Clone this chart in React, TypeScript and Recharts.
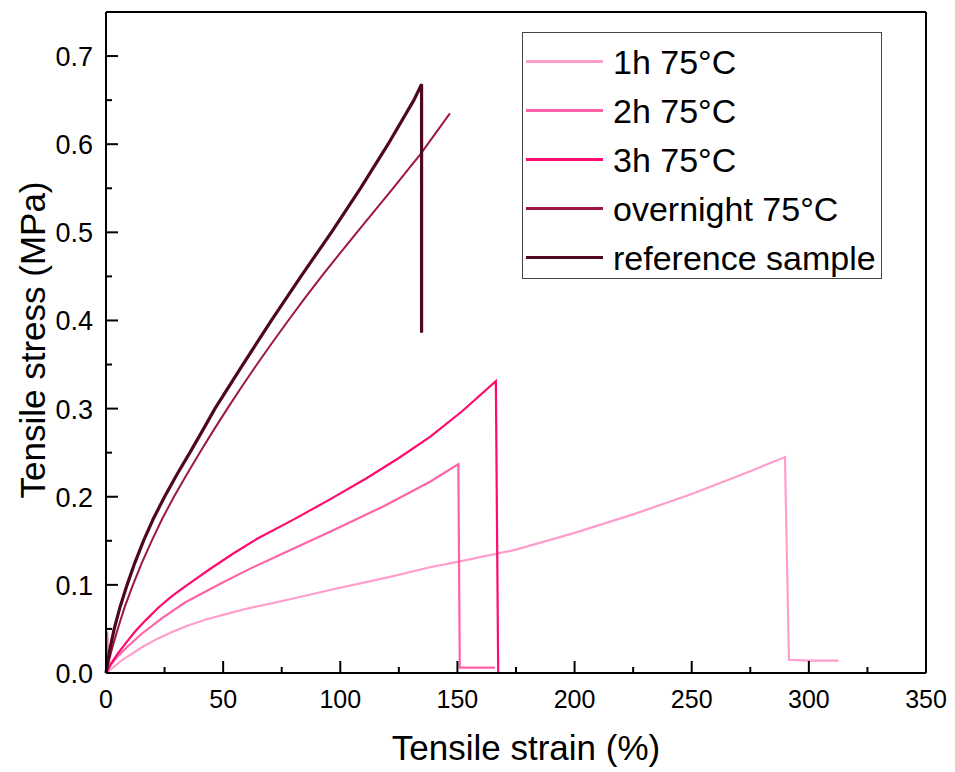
import React from 'react';
import { LineChart, Line, XAxis, YAxis, Legend, ReferenceLine } from 'recharts';

// strain (%) / stress (MPa) pairs
const oneHour = [
  [0, 0], [2, 0.004], [6, 0.013], [10, 0.02], [15.9, 0.03], [22, 0.039], [28.7, 0.047],
  [35, 0.054], [43, 0.061], [50, 0.066], [58.6, 0.072], [75.7, 0.082], [97, 0.095], [121.2, 0.109],
  [138.3, 0.12], [150, 0.126], [175, 0.14], [200, 0.159], [225, 0.18], [250, 0.203],
  [275, 0.229], [289.8, 0.245], [291.5, 0.015], [300, 0.014], [312.6, 0.014],
];
const twoHours = [
  [0, 0], [0.5, 0.047], [1, 0.004], [2, 0.009], [5, 0.019], [8.8, 0.029], [15, 0.044],
  [23.8, 0.062], [33.7, 0.08], [50, 0.103], [62, 0.119], [75.7, 0.136], [97, 0.162], [118.3, 0.189],
  [138.3, 0.217], [150.4, 0.237], [151, 0.006], [158, 0.006], [166, 0.006],
];
const threeHours = [
  [0, 0], [2, 0.01], [5, 0.022], [8.8, 0.035], [12.4, 0.047], [17, 0.06], [22.3, 0.074],
  [28, 0.087], [33.7, 0.098], [39, 0.108], [44.4, 0.118], [54, 0.135], [64.3, 0.152], [80, 0.174],
  [95.6, 0.197], [111.2, 0.221], [125, 0.244], [138.3, 0.268], [152, 0.297], [166.4, 0.331], [167.4, 0],
];
const overnight = [
  [0, 0], [2.3, 0.025], [5, 0.05], [8, 0.075], [11.5, 0.1], [15.3, 0.125], [19.5, 0.15],
  [24, 0.175], [29, 0.2], [34.4, 0.225], [40, 0.25], [45.8, 0.275], [51.8, 0.3], [58, 0.325],
  [64.4, 0.35], [71, 0.375], [77.8, 0.4], [84.8, 0.425], [92, 0.45], [99.5, 0.475], [107.1, 0.5],
  [114.8, 0.525], [122.5, 0.55], [130.1, 0.575], [134, 0.588], [146.8, 0.635],
];
const referenceSample = [
  [0, 0], [1.5, 0.025], [3.5, 0.05], [6, 0.075], [9, 0.1], [12.3, 0.125], [16, 0.15],
  [20.2, 0.175], [25, 0.2], [30.2, 0.225], [35.8, 0.25], [41.2, 0.275], [46.5, 0.3],
  [58.4, 0.35], [70.6, 0.4], [83.2, 0.45], [96.2, 0.5], [108.6, 0.55], [120.4, 0.6],
  [131.4, 0.65], [134.7, 0.668], [134.7, 0.386],
];

const seriesNames = ['1h 75°C', '2h 75°C', '3h 75°C', 'overnight 75°C', 'reference sample'];
const seriesColors = ['#ff9dcc', '#ff62a8', '#ff0a6e', '#9e1549', '#4e081c'];
const seriesWidths = [2.2, 2.2, 2.2, 2, 3.2];
const seriesData = [oneHour, twoHours, threeHours, overnight, referenceSample];

const xTicks = [0, 25, 50, 75, 100, 125, 150, 175, 200, 225, 250, 275, 300, 325, 350];
const yTicks = [0, 0.05, 0.1, 0.15, 0.2, 0.25, 0.3, 0.35, 0.4, 0.45, 0.5, 0.55, 0.6, 0.65, 0.7];

const PLOT_LEFT = 106;
const PLOT_BOTTOM = 673;

const toPts = (arr: number[][]) => arr.map(([x, y]) => ({ x, y }));

function XTick(props: any) {
  const { x, payload } = props;
  const v = payload.value;
  const major = v % 50 === 0;
  return (
    <g>
      <line x1={x} x2={x} y1={PLOT_BOTTOM} y2={PLOT_BOTTOM - (major ? 12 : 6)} stroke="#000" strokeWidth={2} />
      {major && (
        <text x={x} y={708} textAnchor="middle" fontSize={25} fill="#000">
          {v}
        </text>
      )}
    </g>
  );
}

function YTick(props: any) {
  const { y, payload } = props;
  const v = payload.value;
  const major = Math.round(v * 100) % 10 === 0;
  return (
    <g>
      <line x1={PLOT_LEFT} x2={PLOT_LEFT + (major ? 12 : 6)} y1={y} y2={y} stroke="#000" strokeWidth={2} />
      {major && (
        <text x={93} y={y + 10} textAnchor="end" fontSize={27} fill="#000">
          {v.toFixed(1)}
        </text>
      )}
    </g>
  );
}

const renderLegend = () => (
  <div
    style={{
      width: 360,
      height: 247,
      boxSizing: 'border-box',
      border: '1px solid #444',
      background: '#fff',
      paddingTop: 4,
    }}
  >
    {seriesNames.map((name, i) => (
      <div key={name} style={{ height: 49, display: 'flex', alignItems: 'center' }}>
        <div style={{ width: 77, height: 3, marginLeft: 3, background: seriesColors[i] }} />
        <span style={{ marginLeft: 10, fontSize: 34, lineHeight: 1, color: '#000' }}>{name}</span>
      </div>
    ))}
  </div>
);

export default function App() {
  return (
    <div
      style={{
        position: 'absolute',
        left: 0,
        top: 0,
        width: 955,
        height: 772,
        background: '#fff',
        fontFamily: '"Liberation Sans", Arial, sans-serif',
      }}
    >
      <LineChart width={955} height={772} margin={{ top: 12, right: 29, left: 0, bottom: 0 }}>
        <XAxis
          dataKey="x"
          type="number"
          domain={[0, 350]}
          ticks={xTicks}
          interval={0}
          height={99}
          tickLine={false}
          tick={<XTick />}
          axisLine={{ stroke: '#000', strokeWidth: 2 }}
          label={() => (
            <text x={526} y={760} textAnchor="middle" fontSize={35} fill="#000">
              Tensile strain (%)
            </text>
          )}
        />
        <YAxis
          type="number"
          domain={[0, 0.75]}
          ticks={yTicks}
          interval={0}
          width={PLOT_LEFT}
          tickLine={false}
          tick={<YTick />}
          axisLine={{ stroke: '#000', strokeWidth: 2 }}
          label={() => (
            <text x={45} y={340} transform="rotate(-90 45 340)" textAnchor="middle" fontSize={35} fill="#000">
              Tensile stress (MPa)
            </text>
          )}
        />
        <ReferenceLine y={0.75} stroke="#000" strokeWidth={2} ifOverflow="visible" />
        <ReferenceLine x={350} stroke="#000" strokeWidth={2} ifOverflow="visible" />
        <Legend
          layout="vertical"
          align="center"
          verticalAlign="middle"
          wrapperStyle={{ position: 'absolute', left: 522, top: 32, width: 360, height: 247 }}
          content={renderLegend}
        />
        {seriesData.map((d, i) => (
          <Line
            key={seriesNames[i]}
            name={seriesNames[i]}
            data={toPts(d)}
            dataKey="y"
            type="linear"
            stroke={seriesColors[i]}
            strokeWidth={seriesWidths[i]}
            dot={false}
            activeDot={false}
            isAnimationActive={false}
          />
        ))}
      </LineChart>
    </div>
  );
}
